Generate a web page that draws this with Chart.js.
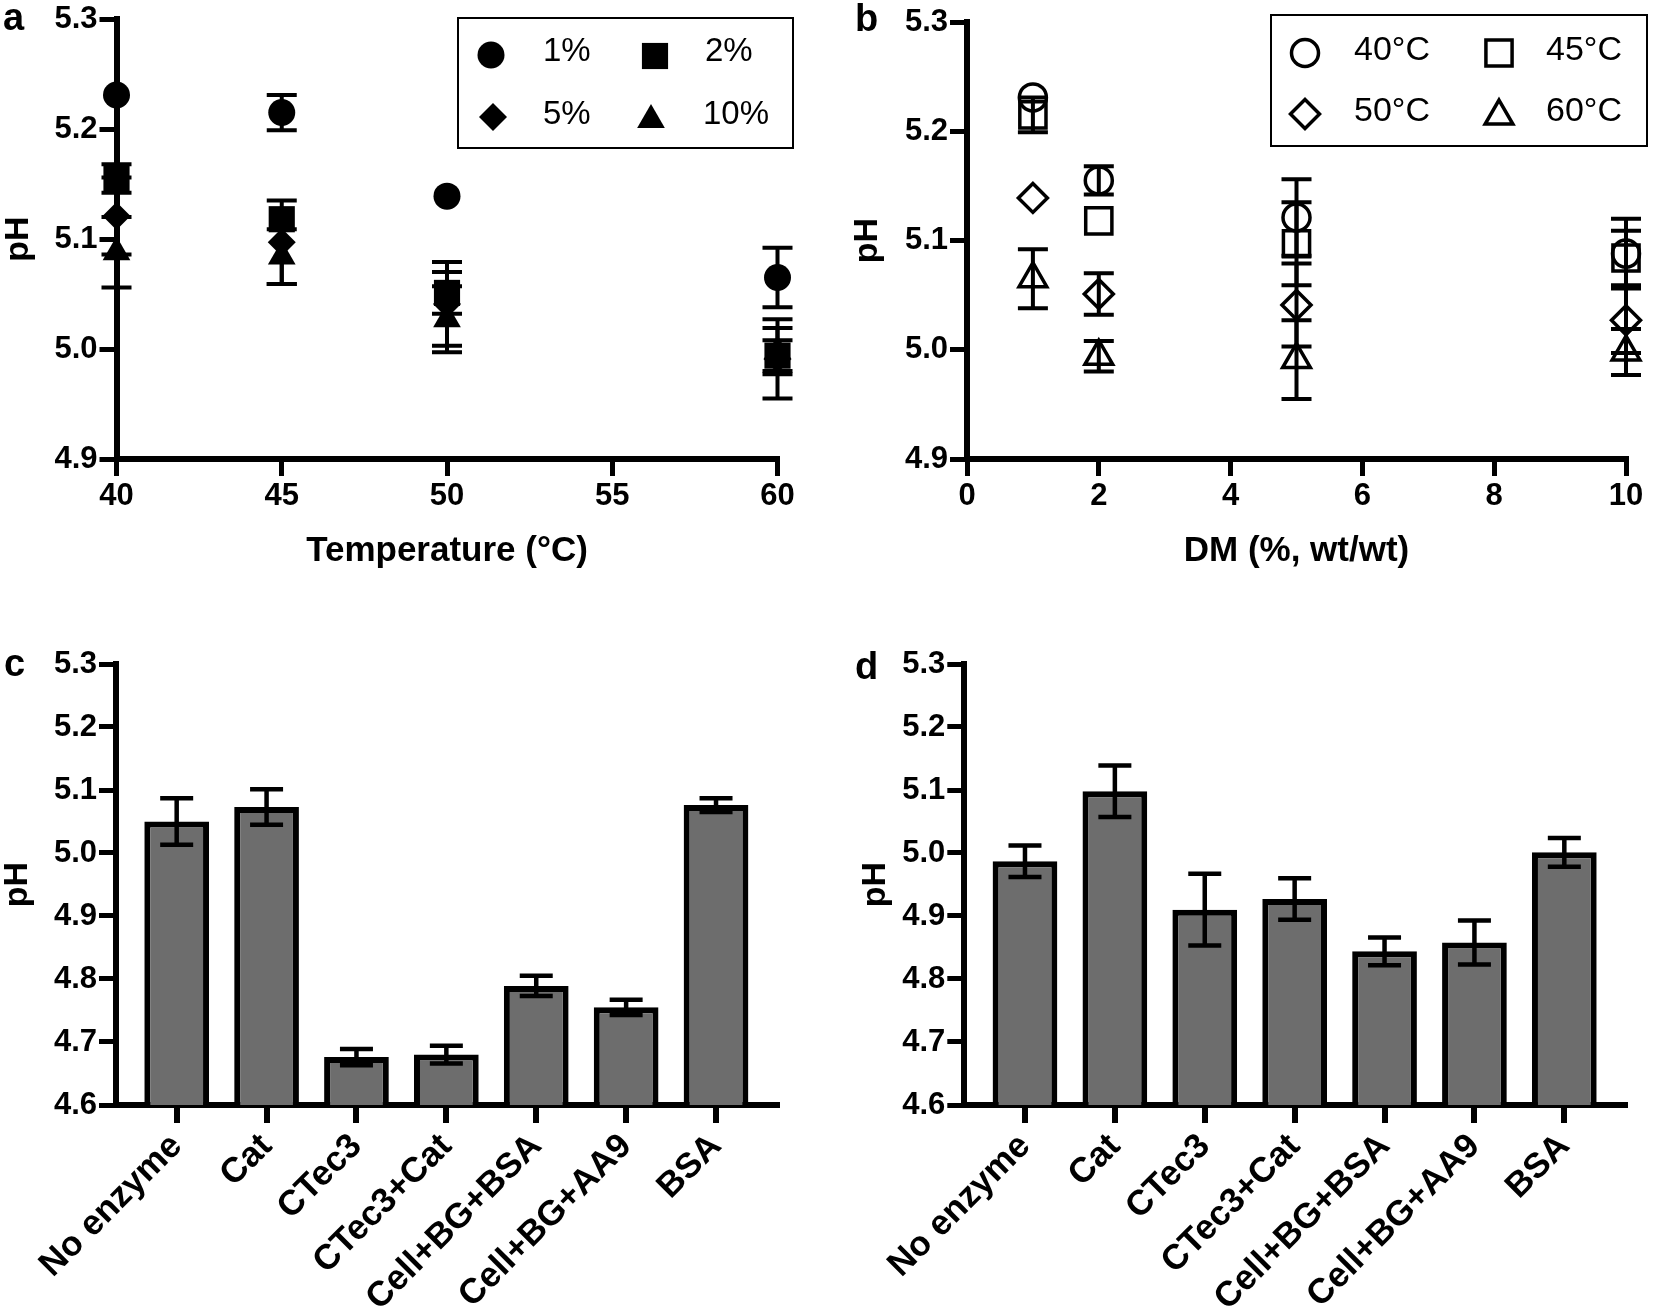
<!DOCTYPE html>
<html><head><meta charset="utf-8">
<script src="https://cdn.jsdelivr.net/npm/chart.js@4.4.1/dist/chart.umd.min.js"></script>
<style>
html,body{margin:0;padding:0;background:#fff;}
body{width:1654px;height:1307px;position:relative;overflow:hidden;font-family:"Liberation Sans",Arial,sans-serif;}
canvas{position:absolute;}
.pl{position:absolute;font-weight:bold;font-size:38px;line-height:1;color:#000;}
</style></head><body>
<canvas id="ca" width="827" height="620" style="left:0;top:0;width:827px;height:620px"></canvas>
<canvas id="cb" width="827" height="620" style="left:827px;top:0;width:827px;height:620px"></canvas>
<canvas id="cc" width="827" height="687" style="left:0;top:620px;width:827px;height:687px"></canvas>
<canvas id="cd" width="827" height="687" style="left:827px;top:620px;width:827px;height:687px"></canvas>
<div class="pl" style="left:3px;top:-2px">a</div>
<div class="pl" style="left:855px;top:-1px">b</div>
<div class="pl" style="left:4px;top:644px">c</div>
<div class="pl" style="left:855px;top:647px">d</div>
<script>
// ---------- data ----------
const temps = [40, 45, 50, 60];
const dmLevels = [1, 2, 5, 10];
const dmNames = ['1%', '2%', '5%', '10%'];
const tempNames = ['40°C', '45°C', '50°C', '60°C'];
// pH at 40,45,50,60 °C for each DM level
const phDM1 = [5.231, 5.215, 5.139, 5.065];
const phDM2 = [5.155, 5.118, 5.051, 4.994];
const phDM5 = [5.121, 5.097, 5.041, 4.991];
const phDM10 = [5.088, 5.084, 5.027, 4.998];
const errDM1 = [0.0, 0.016, 0.0, 0.027];
const errDM2 = [0.013, 0.0, 0.019, 0.014];
const errDM5 = [0.035, 0.038, 0.038, 0.036];
const errDM10 = [0.032, 0.025, 0.030, 0.021];

const xTicksA = [40, 45, 50, 55, 60];
const xTicksB = [0, 2, 4, 6, 8, 10];
const yTicksAB = [4.9, 5.0, 5.1, 5.2, 5.3];
const yTicksCD = [4.6, 4.7, 4.8, 4.9, 5.0, 5.1, 5.2, 5.3];

const enzymes = ['No enzyme', 'Cat', 'CTec3', 'CTec3+Cat', 'Cell+BG+BSA', 'Cell+BG+AA9', 'BSA'];
const phC = [5.050, 5.073, 4.676, 4.680, 4.789, 4.755, 5.076];
const errC = [0.037, 0.028, 0.013, 0.014, 0.016, 0.012, 0.011];
const phD = [4.987, 5.098, 4.910, 4.927, 4.844, 4.858, 5.001];
const errD = [0.025, 0.041, 0.057, 0.033, 0.022, 0.035, 0.023];

const phByDM = [phDM1, phDM2, phDM5, phDM10];
const errByDM = [errDM1, errDM2, errDM5, errDM10];

// ---------- setup ----------
Chart.defaults.font.family = "'Liberation Sans', Arial, sans-serif";
Chart.defaults.color = '#000';

const errorBarPlugin = {
  id: 'errbars',
  beforeDatasetsDraw(chart, args, o) { if (o.layer === 'behind') drawErr(chart, o); },
  afterDatasetsDraw(chart, args, o) { if (o.layer !== 'behind') drawErr(chart, o); }
};
function drawErr(chart, o) {
  const ctx = chart.ctx, ys = chart.scales.y;
  ctx.save();
  ctx.strokeStyle = '#000';
  ctx.lineWidth = o.lineWidth;
  ctx.lineCap = 'butt';
  chart.data.datasets.forEach((ds, i) => {
    const meta = chart.getDatasetMeta(i);
    meta.data.forEach((el, j) => {
      const v = ds.data[j].y, e = ds.errors[j];
      if (!(e > 0)) return;
      const x = el.x;
      const y1 = ys.getPixelForValue(v + e), y2 = ys.getPixelForValue(v - e);
      ctx.beginPath();
      ctx.moveTo(x, y1); ctx.lineTo(x, y2);
      ctx.moveTo(x - o.cap, y1); ctx.lineTo(x + o.cap, y1);
      ctx.moveTo(x - o.cap, y2); ctx.lineTo(x + o.cap, y2);
      ctx.stroke();
    });
  });
  ctx.restore();
}

const boxLegendPlugin = {
  id: 'boxLegend',
  afterDraw(chart, args, o) {
    const ctx = chart.ctx;
    ctx.save();
    ctx.lineWidth = 2; ctx.strokeStyle = '#000';
    ctx.strokeRect(o.box[0], o.box[1], o.box[2] - o.box[0], o.box[3] - o.box[1]);
    chart.data.datasets.forEach((ds, i) => {
      const p = o.slots[i];
      ctx.fillStyle = ds.pointBackgroundColor;
      ctx.strokeStyle = ds.pointBorderColor;
      ctx.lineWidth = ds.pointBorderWidth;
      Chart.helpers.drawPoint(ctx, {pointStyle: ds.pointStyle, radius: ds.pointRadius, borderWidth: ds.pointBorderWidth, rotation: 0}, p[0], p[1]);
      ctx.fillStyle = '#000';
      ctx.font = o.font;
      ctx.textAlign = 'left';
      ctx.textBaseline = 'middle';
      ctx.fillText(ds.label, p[2], p[3]);
    });
    ctx.restore();
  }
};

function yScale(min, max, ticksArr, w, titlePad) {
  return {
    type: 'linear', position: 'left', min, max,
    afterBuildTicks: s => { s.ticks = ticksArr.map(v => ({value: v})); },
    afterFit: s => { s.width = w; },
    border: {display: true, width: 6, color: '#000'},
    grid: {display: true, drawOnChartArea: false, drawTicks: true, tickLength: 17, lineWidth: 5, color: '#000', tickColor: '#000'},
    ticks: {color: '#000', font: {size: 31, weight: 'bold', lineHeight: 1.1}, padding: 2, callback: v => Number(v).toFixed(1)},
    title: {display: true, text: 'pH', color: '#000', font: {size: 34, weight: 'bold', lineHeight: 1}, padding: {top: titlePad, bottom: 0}}
  };
}
function xScaleNum(min, max, ticksArr, h, title) {
  return {
    type: 'linear', position: 'bottom', min, max,
    afterBuildTicks: s => { s.ticks = ticksArr.map(v => ({value: v})); },
    afterFit: s => { s.height = h; },
    border: {display: true, width: 6, color: '#000'},
    grid: {display: true, drawOnChartArea: false, drawTicks: true, tickLength: 17, lineWidth: 5, color: '#000', tickColor: '#000'},
    ticks: {color: '#000', font: {size: 31, weight: 'bold', lineHeight: 1.1}, padding: 3, maxRotation: 0, autoSkip: false},
    title: {display: true, text: title, color: '#000', font: {size: 35, weight: 'bold', lineHeight: 1.2}, padding: {top: 0, bottom: 48}}
  };
}
function xScaleCat(h) {
  return {
    type: 'linear', position: 'bottom', offset: false,
    min: -0.675, max: enzymes.length - 1 + 0.675,
    afterBuildTicks: s => { s.ticks = enzymes.map((n, i) => ({value: i})); },
    afterFit: s => { s.height = h; },
    border: {display: true, width: 6, color: '#000'},
    grid: {display: true, offset: false, drawOnChartArea: false, drawTicks: true, tickLength: 18, lineWidth: 6, color: '#000', tickColor: '#000'},
    ticks: {color: '#000', font: {size: 35, weight: 'bold', lineHeight: 1.1}, padding: 4, minRotation: 45, maxRotation: 45, autoSkip: false,
      callback: v => enzymes[Math.round(v)]}
  };
}

const stylesA = [
  {pointStyle: 'circle', pointRadius: 13.5},
  {pointStyle: 'rect', pointRadius: 18.5},
  {pointStyle: 'rectRot', pointRadius: 14},
  {pointStyle: 'triangle', pointRadius: 16}
];
const stylesB = [
  {pointStyle: 'circle', pointRadius: 13.5},
  {pointStyle: 'rect', pointRadius: 18.5},
  {pointStyle: 'rectRot', pointRadius: 14.5},
  {pointStyle: 'triangle', pointRadius: 16}
];

const common = {
  responsive: false, animation: false, devicePixelRatio: 1, events: []
};

// ---------- panel a ----------
new Chart(document.getElementById('ca'), {
  type: 'scatter',
  data: {
    datasets: dmNames.map((n, k) => Object.assign({
      label: n,
      data: temps.map((t, i) => ({x: t, y: phByDM[k][i]})),
      errors: errByDM[k],
      pointBackgroundColor: '#000', pointBorderColor: '#000', pointBorderWidth: 0,
      showLine: false, clip: false
    }, stylesA[k]))
  },
  options: Object.assign({}, common, {
    layout: {padding: {left: 0, top: 18, right: 49.5, bottom: 0}},
    scales: {x: xScaleNum(40, 60, xTicksA, 161, 'Temperature (°C)'), y: yScale(4.9, 5.3, yTicksAB, 116.5, 2)},
    plugins: {
      legend: {display: false}, tooltip: {enabled: false},
      errbars: {layer: 'behind', lineWidth: 4, cap: 15},
      boxLegend: {box: [458, 18, 793, 148], font: '33px "Liberation Sans", Arial, sans-serif',
        slots: [[491, 55, 543, 52], [655, 56, 705, 52], [493, 117, 543, 115], [651, 120, 703, 115]]}
    }
  }),
  plugins: [errorBarPlugin, boxLegendPlugin]
});

// ---------- panel b ----------
new Chart(document.getElementById('cb'), {
  type: 'scatter',
  data: {
    datasets: tempNames.map((n, i) => Object.assign({
      label: n,
      data: dmLevels.map((d, k) => ({x: d, y: phByDM[k][i]})),
      errors: dmLevels.map((d, k) => errByDM[k][i]),
      pointBackgroundColor: 'rgba(255,255,255,0)', pointBorderColor: '#000', pointBorderWidth: 3.5,
      showLine: false, clip: false
    }, stylesB[i]))
  },
  options: Object.assign({}, common, {
    layout: {padding: {left: 0, top: 18, right: 28, bottom: 0}},
    scales: {x: xScaleNum(0, 10, xTicksB, 161, 'DM (%, wt/wt)'), y: yScale(4.9, 5.3, yTicksAB, 140, 24)},
    plugins: {
      legend: {display: false}, tooltip: {enabled: false},
      errbars: {layer: 'behind', lineWidth: 4, cap: 15},
      boxLegend: {box: [444, 15, 820, 146], font: '34px "Liberation Sans", Arial, sans-serif',
        slots: [[478, 53, 527, 51], [672, 53, 719, 51], [478, 114, 527, 112], [672, 116, 719, 112]]}
    }
  }),
  plugins: [errorBarPlugin, boxLegendPlugin]
});

// ---------- panels c and d ----------
function barChart(id, values, errs, yW, padRight, titlePad) {
  return new Chart(document.getElementById(id), {
    type: 'bar',
    data: {
      datasets: [{
        label: 'pH',
        data: enzymes.map((n, i) => ({x: i, y: values[i]})),
        errors: errs,
        backgroundColor: '#6d6d6d', borderColor: '#000', borderWidth: 6,
        barPercentage: 0.72, categoryPercentage: 1
      }]
    },
    options: Object.assign({}, common, {
      layout: {padding: {left: 0, top: 44, right: padRight, bottom: 0}},
      scales: {x: xScaleCat(202), y: yScale(4.6, 5.3, yTicksCD, yW, titlePad)},
      plugins: {
        legend: {display: false}, tooltip: {enabled: false},
        errbars: {layer: 'front', lineWidth: 4.5, cap: 16.5}
      }
    }),
    plugins: [errorBarPlugin]
  });
}
barChart('cc', phC, errC, 116, 50.3, 1);
barChart('cd', phD, errD, 137.3, 29, 32);
</script>
</body></html>
